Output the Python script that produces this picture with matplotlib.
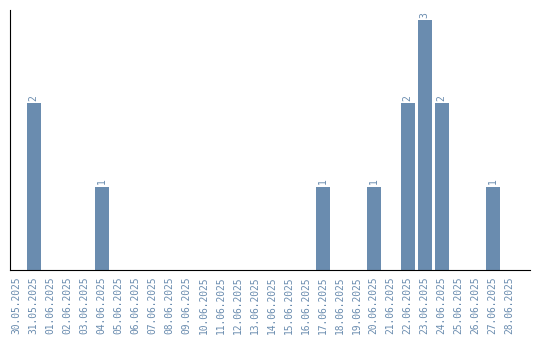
import matplotlib
matplotlib.use('Agg')
import matplotlib.pyplot as plt
import numpy as np

dates = ['30.05.2025', '31.05.2025', '01.06.2025', '02.06.2025', '03.06.2025',
         '04.06.2025', '05.06.2025', '06.06.2025', '07.06.2025', '08.06.2025',
         '09.06.2025', '10.06.2025', '11.06.2025', '12.06.2025', '13.06.2025',
         '14.06.2025', '15.06.2025', '16.06.2025', '17.06.2025', '18.06.2025',
         '19.06.2025', '20.06.2025', '21.06.2025', '22.06.2025', '23.06.2025',
         '24.06.2025', '25.06.2025', '26.06.2025', '27.06.2025', '28.06.2025']
counts = [0, 2, 0, 0, 0, 1, 0, 0, 0, 0,
          0, 0, 0, 0, 0, 0, 0, 0, 1, 0,
          0, 1, 0, 2, 3, 2, 0, 0, 1, 0]

color = '#6a8caf'
mono = 'DejaVu Sans Mono'

fig = plt.figure(figsize=(5.4, 3.4), dpi=100)
ax = fig.add_axes([10/540, 70/340, 520/540, 260/340])

x = np.arange(len(dates))
ax.bar(x, counts, width=0.82, color=color)
for xi, v in zip(x, counts):
    if v > 0:
        ax.text(xi, v + 0.03, str(v), rotation=90, ha='center', va='bottom',
                fontsize=7, color=color, family=mono)

ax.set_xlim(-0.4, 30.2)
ax.set_ylim(0, 3.12)
ax.set_xticks(x)
ax.set_xticklabels(dates, rotation=90, fontsize=6.9, color=color, family=mono)
ax.tick_params(axis='x', length=0, pad=5)
ax.set_yticks([])
ax.spines['top'].set_visible(False)
ax.spines['right'].set_visible(False)

fig.savefig('out.png', dpi=100)
